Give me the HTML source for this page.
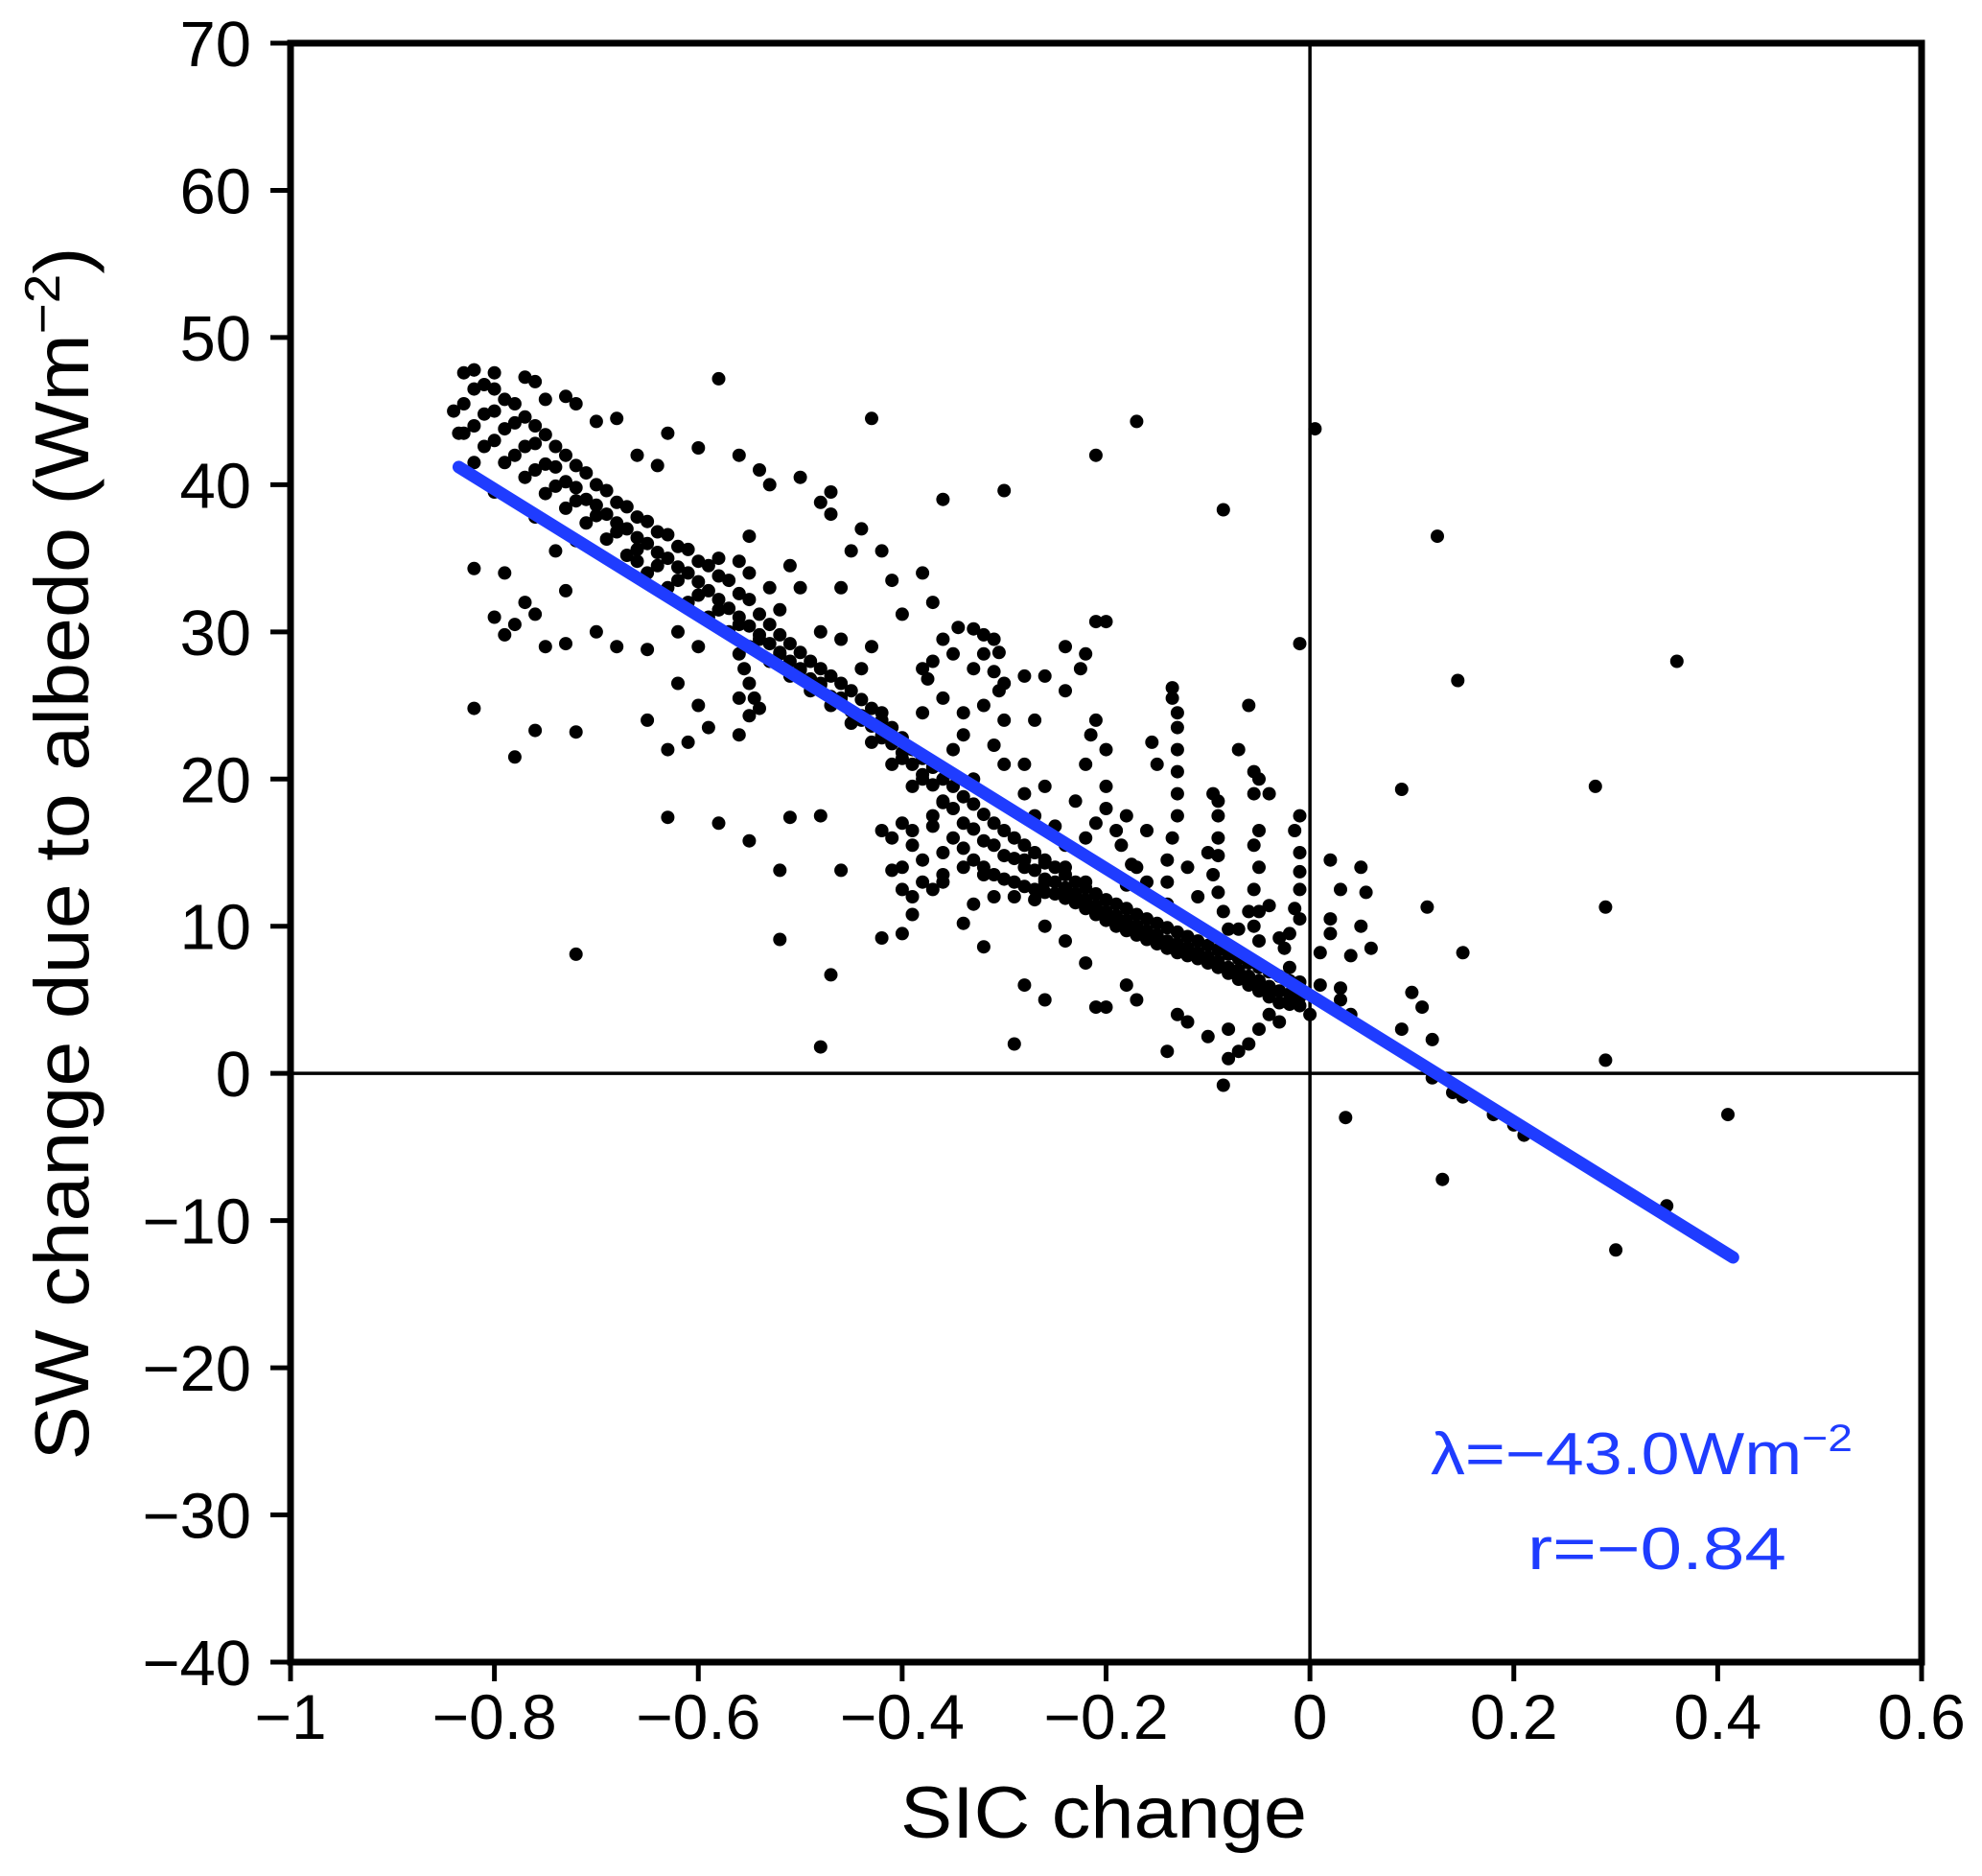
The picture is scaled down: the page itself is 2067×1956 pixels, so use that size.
<!DOCTYPE html>
<html><head><meta charset="utf-8"><style>
html,body{margin:0;padding:0;background:#fff;}
svg{display:block;}
text{font-family:"Liberation Sans",sans-serif;}
</style></head><body>
<svg id="chart" width="2067" height="1956" viewBox="0 0 2067 1956" xmlns="http://www.w3.org/2000/svg">
<rect width="2067" height="1956" fill="#fff"/>
<g id="dots"></g>
<g id="axes"></g>
</svg>
<script>
const xTicks=[-1,-0.8,-0.6,-0.4,-0.2,0,0.2,0.4,0.6];
const xTickLabels=["\u22121","\u22120.8","\u22120.6","\u22120.4","\u22120.2","0","0.2","0.4","0.6"];
const yTicks=[-40,-30,-20,-10,0,10,20,30,40,50,60,70];
const yTickLabels=["\u221240","\u221230","\u221220","\u221210","0","10","20","30","40","50","60","70"];
const fitX=[-0.835,0.415];
const fitY=[41.2,-12.5];
const pts=[
-0.83,47.6,-0.81,46.8,-0.79,45.8,-0.77,44.6,-0.75,43.4,-0.73,42,-0.71,40.8,-0.69,39.6,-0.67,38.5,-0.65,37.5,-0.63,36.6,-0.61,35.6,-0.59,34.5,-0.57,33.5,-0.55,32.2,-0.53,30.5,-0.51,29.2,-0.49,28,-0.47,27,-0.45,26,-0.43,24.8,-0.41,23.5,-0.39,22,-0.37,20.8,-0.35,19.5,-0.33,18.3,-0.31,17,-0.29,16,-0.27,15,-0.25,14,-0.23,13,-0.21,12.2,-0.19,11.5,-0.17,10.8,-0.15,10.2,-0.13,9.6,-0.11,9,-0.09,8.4,-0.07,7.8,-0.05,7.2,-0.03,6.6,-0.01,6.2,0.01,6,0.03,5.8,
-0.83,45.5,-0.81,44.8,-0.79,43.8,-0.77,42.6,-0.75,41.4,-0.73,40.2,-0.71,39,-0.69,38,-0.67,37,-0.65,36,-0.63,35,-0.61,34,-0.59,32.8,-0.57,31.6,-0.55,30.4,-0.53,29.2,-0.51,28,-0.49,26.8,-0.47,25.6,-0.45,24.6,-0.43,23.6,-0.41,22.4,-0.39,21,-0.37,19.6,-0.35,18,-0.33,16.6,-0.31,15.5,-0.29,14.6,-0.27,13.8,-0.25,13,-0.23,12.2,-0.21,11.4,-0.19,10.7,-0.17,10,-0.15,9.4,-0.13,8.8,-0.11,8.2,-0.09,7.6,-0.07,7,-0.05,6.3,-0.03,5.6,-0.01,5.2,
-0.83,43.5,-0.81,42.6,-0.79,41.5,-0.77,40.5,-0.75,39.4,-0.73,38.4,-0.71,37.4,-0.69,36.3,-0.67,35.2,-0.65,34,-0.63,33,-0.61,32,-0.59,31,-0.57,30,-0.55,29,-0.53,28,-0.51,27,-0.49,26,-0.47,25,-0.45,23.8,-0.43,22.5,-0.41,21,-0.39,19.5,-0.37,17.5,-0.35,16,-0.33,14.5,-0.31,13.5,-0.29,13,-0.27,12.5,-0.25,12.2,-0.23,11.6,-0.21,10.8,-0.19,10,-0.17,9.4,-0.15,8.8,-0.13,8.2,-0.11,7.8,-0.09,7.2,-0.07,6.4,-0.05,5.6,-0.03,4.8,-0.01,4.6,
-0.82,46.5,-0.8,45,-0.78,44.2,-0.76,42.8,-0.74,41.2,-0.72,39.8,-0.7,38.6,-0.68,37.4,-0.66,36.4,-0.64,35.4,-0.62,34.4,-0.6,33.4,-0.58,32.2,-0.56,31,-0.54,29.8,-0.52,28.6,-0.5,27.4,-0.48,26.4,-0.46,25.2,-0.44,24,-0.42,22.8,-0.4,21.4,-0.38,20,-0.36,18.4,-0.34,17,-0.32,15.8,-0.3,14.8,-0.28,14,-0.26,13.2,-0.24,12.6,-0.22,11.8,-0.2,11,-0.18,10.4,-0.16,9.7,-0.14,9,-0.12,8.5,-0.1,7.9,-0.08,7.2,-0.06,6.6,-0.04,5.9,-0.02,5.4,
-0.82,47.8,-0.8,46.5,-0.78,45.5,-0.76,44,-0.74,42.6,-0.72,41.3,-0.7,40,-0.68,38.8,-0.66,37.8,-0.64,36.8,-0.62,35.8,-0.6,34.8,-0.58,33.8,-0.56,32.6,-0.54,31.2,-0.52,29.8,-0.5,28.6,-0.48,27.5,-0.46,26.5,-0.44,25.4,-0.42,24,-0.4,22.8,-0.38,21.4,-0.36,20,-0.34,18.8,-0.32,17.6,-0.3,16.5,-0.28,15.5,-0.26,14.5,-0.24,13.5,-0.22,12.6,-0.2,11.8,-0.18,11.2,-0.16,10.5,-0.14,9.9,-0.12,9.3,-0.1,8.7,-0.08,8.1,-0.06,7.5,-0.04,6.9,-0.02,6.3,
-0.82,44,-0.8,43,-0.78,42,-0.76,41,-0.74,39.9,-0.72,38.9,-0.7,37.9,-0.68,36.8,-0.66,35.6,-0.64,34.5,-0.62,33.5,-0.6,32.5,-0.58,31.5,-0.56,30.5,-0.54,29.5,-0.52,28.5,-0.5,27.5,-0.48,26.5,-0.46,25.5,-0.44,24.3,-0.42,23,-0.4,21.8,-0.38,20.3,-0.36,18.5,-0.34,15.3,-0.32,14,-0.3,13.2,-0.28,12.7,-0.26,12.3,-0.24,11.9,-0.22,11.2,-0.2,10.4,-0.18,9.7,-0.16,9.1,-0.14,8.5,-0.12,8,-0.1,7.5,-0.08,6.8,-0.06,6,-0.04,5.2,-0.02,4.7,
-0.39,16.5,-0.37,16.8,-0.36,15,-0.38,14.5,-0.36,13,-0.34,14,-0.32,13.5,-0.31,12,-0.33,11.5,-0.29,12,-0.27,11.8,-0.26,13,-0.24,12.5,-0.22,13,-0.24,14,-0.28,14.5,
-0.135,26.2,-0.135,25.5,-0.13,24.5,-0.13,23.5,-0.13,22,-0.13,20.5,-0.13,19,-0.13,17.5,-0.135,16,-0.14,14.5,-0.14,13,-0.15,21,-0.155,22.5,
-0.095,19,-0.09,18.5,-0.09,17.5,-0.09,16,-0.09,14.8,-0.095,13.5,-0.09,12.3,-0.085,11,-0.08,9.8,
-0.055,20.5,-0.05,20,-0.055,19,-0.05,16.5,-0.055,15.5,-0.05,14,-0.055,12.5,-0.05,11,-0.055,10,-0.05,9,
-0.01,17.5,-0.015,16.5,-0.01,15,-0.01,13.7,-0.01,12.5,-0.015,11.2,-0.01,10.5,-0.02,9.5,-0.025,8.5,
-0.21,30.7,-0.2,30.7,-0.22,28.5,-0.225,27.5,-0.21,24,-0.215,23,-0.2,22,-0.22,21,-0.2,19.5,-0.2,18,-0.21,17,-0.19,16.5,-0.185,15.5,-0.175,14.2,-0.18,12.8,
-0.345,30.3,-0.33,30.2,-0.32,29.8,-0.31,29.5,-0.305,28.6,-0.31,27.3,-0.305,26,-0.33,27.5,-0.35,28.5,-0.36,29.5,-0.37,28,-0.375,26.8,-0.36,25.5,-0.34,24.5,-0.32,25,-0.34,23,-0.31,22.3,-0.3,24,
-0.58,35,-0.56,34.8,-0.55,34,-0.53,33,-0.52,31.5,
-0.56,28.5,-0.555,27.5,-0.55,26.5,-0.545,25.5,-0.54,24.8,-0.55,24.3,-0.56,25.5,
-0.42,16.5,-0.41,16,-0.4,17,-0.39,15.5,-0.4,14,-0.38,13,-0.41,13.8,-0.4,12.5,-0.39,12,-0.37,12.5,
-0.58,47.2,-0.43,44.5,-0.17,44.3,-0.21,42,0.005,43.8,-0.085,38.3,0.125,36.5,-0.3,39.6,-0.36,39,-0.42,35.5,-0.53,40,-0.5,40.5,-0.56,42,-0.6,42.5,-0.63,43.5,-0.68,44.5,-0.7,44.3,-0.66,42,-0.64,41.3,-0.54,41,-0.47,38,-0.47,39.5,-0.48,38.8,-0.44,37,-0.45,35.5,-0.41,33.5,-0.38,34,-0.37,32,-0.4,31.2,-0.46,33,-0.55,36.5,-0.5,33,-0.51,34.5,-0.32,28.5,-0.28,27,-0.26,27,-0.24,29,-0.24,26,-0.27,24,-0.3,26.5,-0.01,29.2,-0.06,25,-0.07,22,-0.04,19,0.02,14.5,0.03,12.5,0.02,10.5,0.02,9.5,0.05,14,0.055,12.3,0.05,10,0.04,8,0.06,8.5,0.1,5.5,0.11,4.5,0.12,2.3,0.09,3,0.03,5,0.04,4,0.035,-3,0.115,11.3,0.15,8.2,0.09,19.3,0.145,26.7,0.28,19.5,0.29,11.3,0.29,0.9,0.36,28,0.41,-2.8,0.13,-7.2,0.3,-12,0.35,-9,0.12,-0.3,0.14,-1.3,0.15,-1.6,0.18,-2.8,0.2,-3.5,0.21,-4.2,-0.085,-0.8,-0.08,1,-0.07,1.5,-0.06,2,-0.08,3,-0.1,2.5,-0.12,3.5,-0.14,1.5,-0.13,4,-0.17,5,-0.2,4.5,-0.21,4.5,-0.18,6,-0.22,7.5,-0.24,9,-0.26,10,-0.28,6,-0.29,2,-0.26,5,-0.34,10.2,-0.36,13.5,-0.42,9.2,-0.46,13.8,-0.47,6.7,-0.48,1.8,-0.52,9.1,-0.52,13.8,-0.48,17.5,-0.51,17.4,-0.55,15.8,-0.58,17,-0.63,17.4,-0.65,24,-0.63,22,-0.61,22.5,-0.6,25,-0.62,26.5,-0.65,28.8,-0.68,29,-0.7,30,-0.73,29.2,-0.78,30.5,-0.8,31,-0.77,32,-0.79,29.8,-0.76,31.2,-0.75,29,-0.72,23.2,-0.72,8.1,-0.76,23.3,-0.82,24.8,-0.78,21.5,-0.82,34.3,-0.79,34,-0.73,32.8,-0.72,36.2,-0.74,35.5,-0.8,39.5,-0.76,37.8,-0.82,41.5,-0.77,47.3,-0.75,45.8,-0.72,45.5,-0.73,46,-0.76,47,-0.8,47.6,-0.82,47.8,-0.84,45,-0.835,43.5,-0.6,29,-0.58,31.5,-0.62,30,-0.56,23,-0.59,23.5,-0.66,34.8,-0.4,9.5,-0.39,10.8,-0.32,8.6,-0.12,8.5,-0.14,11.5,-0.16,13,-0.11,12,-0.12,14,-0.1,15,-0.07,9.8,-0.06,11,-0.04,11.4,-0.03,9.2,-0.02,7.2,-0.04,4,-0.03,3.5,-0.05,3,-0.02,5,0.0,4,0.01,8.2,-0.3,21,-0.28,19,-0.27,17.5,-0.25,16.8,-0.26,19.5,-0.23,18.5,-0.22,16,-0.24,15.5,-0.26,14.3,-0.18,17.5,-0.16,16.5,-0.17,14,-0.28,21,-0.33,20,-0.35,22,-0.38,24.5,-0.42,24.5,-0.44,27.5,-0.46,29.5,-0.43,29,-0.48,30,-0.38,27.5
];
const NS="http://www.w3.org/2000/svg";
const L=303,R=2004,T=45,B=1733;
function sx(v){return L+(v-(-1))/(0.6-(-1))*(R-L);}
function sy(v){return B-(v-(-40))/(70-(-40))*(B-T);}
function mk(tag,attrs,parent){const e=document.createElementNS(NS,tag);for(const k in attrs)e.setAttribute(k,attrs[k]);parent.appendChild(e);return e;}
const dots=document.getElementById('dots');
const axes=document.getElementById('axes');
for(let i=0;i<pts.length;i+=2){
  const c=mk('circle',{cx:sx(pts[i]).toFixed(1),cy:sy(pts[i+1]).toFixed(1),r:7,fill:'#000'},dots);
  
  
}
const zv=mk('line',{x1:sx(0),x2:sx(0),y1:T,y2:B,stroke:'#000','stroke-width':3.5},axes);


const zh=mk('line',{x1:L,x2:R,y1:sy(0),y2:sy(0),stroke:'#000','stroke-width':3.5},axes);


const fl=mk('line',{x1:sx(fitX[0]),y1:sy(fitY[0]),x2:sx(fitX[1]),y2:sy(fitY[1]),stroke:'#1f3cff','stroke-width':13,'stroke-linecap':'round'},axes);


const fr=mk('rect',{x:L,y:T,width:R-L,height:B-T,fill:'none',stroke:'#000','stroke-width':7},axes);


xTicks.forEach((v,i)=>{
  const x=sx(v);
  const t=mk('line',{x1:x,x2:x,y1:B,y2:B+20,stroke:'#000','stroke-width':5},axes);
  
  
  const lb=mk('text',{x:x,y:1813,'font-size':66,'text-anchor':'middle',fill:'#000'},axes);
  lb.textContent=xTickLabels[i];
  
  
});
yTicks.forEach((v,i)=>{
  const y=sy(v);
  const t=mk('line',{x1:L-21,x2:L,y1:y,y2:y,stroke:'#000','stroke-width':5},axes);
  
  
  const lb=mk('text',{x:262,y:y+24,'font-size':67,'text-anchor':'end',fill:'#000'},axes);
  lb.textContent=yTickLabels[i];
  
  
});
</script>
<svg style="position:absolute;left:0;top:0" width="2067" height="1956">
<text x="1151" y="1916" font-size="76" text-anchor="middle" textLength="424" lengthAdjust="spacingAndGlyphs" font-family="Liberation Sans, sans-serif">SIC change</text>
<text transform="translate(92,890) rotate(-90)" x="0" y="0" font-size="80" text-anchor="middle" textLength="1265" lengthAdjust="spacingAndGlyphs" font-family="Liberation Sans, sans-serif">SW change due to albedo (Wm<tspan font-size="52" dy="-30">−2</tspan><tspan dy="30">)</tspan></text>
<text x="1492" y="1537" font-size="62" fill="#1f3cff" textLength="440" lengthAdjust="spacingAndGlyphs" font-family="Liberation Sans, sans-serif">λ=−43.0Wm<tspan font-size="40" dy="-24">−2</tspan></text>
<text x="1593" y="1636" font-size="62" fill="#1f3cff" textLength="270" lengthAdjust="spacingAndGlyphs" font-family="Liberation Sans, sans-serif">r=−0.84</text>
</svg>
</body></html>
